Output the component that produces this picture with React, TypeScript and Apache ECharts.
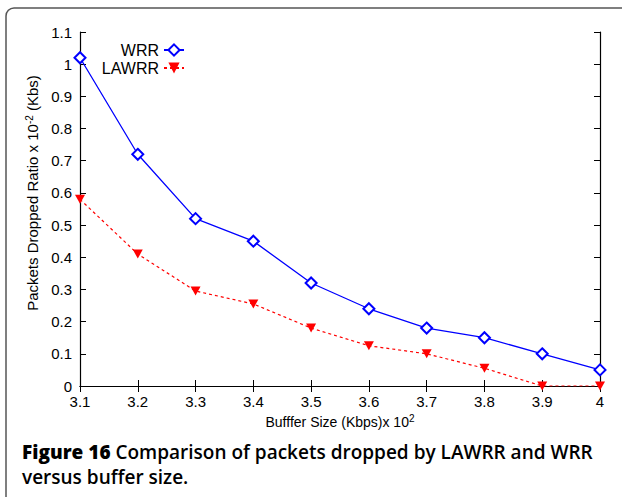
import React, { useEffect, useRef } from "react";
import * as echarts from "echarts";

const bufferSizes = ["3.1", "3.2", "3.3", "3.4", "3.5", "3.6", "3.7", "3.8", "3.9", "4"];
const wrrValues = [1.02, 0.72, 0.52, 0.45, 0.32, 0.24, 0.18, 0.15, 0.1, 0.05];
const lawrrValues = [0.58, 0.41, 0.295, 0.255, 0.18, 0.125, 0.1, 0.055, 0, 0];
const seriesNames = ["WRR", "LAWRR"];
const captionLine1 = "Comparison of packets dropped by LAWRR and WRR";
const captionLine2 = "versus buffer size.";

const FONT = "Liberation Sans, Arial, sans-serif";

export default function App() {
  const ref = useRef<HTMLDivElement>(null);
  useEffect(() => {
    if (!ref.current) return;
    const chart = echarts.init(ref.current, null, { renderer: "svg" });
    const axisLine = { show: true, lineStyle: { color: "#000", width: 1.2 } };
    const tick = { show: true, inside: true, length: 6, lineStyle: { color: "#000", width: 1 } };
    chart.setOption({
      animation: false,
      backgroundColor: "#fff",
      textStyle: { fontFamily: FONT },
      grid: { left: 80, right: 22, top: 32, bottom: 111, containLabel: false },
      legend: {
        data: seriesNames,
        orient: "vertical",
        align: "right",
        right: 432,
        top: 37,
        itemWidth: 20,
        itemHeight: 14,
        itemGap: 2,
        textStyle: { fontFamily: FONT, fontSize: 16, color: "#000" },
        inactiveColor: "#ccc",
      },
      xAxis: [
        {
          type: "category",
          data: bufferSizes,
          boundaryGap: false,
          axisLine,
          axisTick: { ...tick, alignWithLabel: true },
          axisLabel: { color: "#000", fontSize: 15, margin: 8, fontFamily: FONT },
          splitLine: { show: false },
          name: "Bufffer Size (Kbps)x 10{sup|2}",
          nameLocation: "middle",
          nameGap: 16,
          nameTextStyle: {
            color: "#000",
            fontSize: 14,
            fontFamily: FONT,
            rich: { sup: { fontSize: 10, color: "#000", fontFamily: FONT, padding: [0, 0, 7, 0] } },
          },
        },
        {
          type: "category",
          data: bufferSizes,
          boundaryGap: false,
          position: "top",
          axisLine,
          axisTick: tick,
          axisLabel: { show: false },
          splitLine: { show: false },
        },
      ],
      yAxis: [
        {
          type: "value",
          min: 0,
          max: 1.1,
          interval: 0.1,
          axisLine,
          axisTick: tick,
          axisLabel: {
            color: "#000",
            fontSize: 15,
            margin: 8,
            fontFamily: FONT,
            formatter: (v: number) => String(Math.round(v * 10) / 10),
          },
          splitLine: { show: false },
          name: "Packets Dropped Ratio x 10{sup|-2} (Kbs)",
          nameLocation: "middle",
          nameGap: 35,
          nameTextStyle: {
            color: "#000",
            fontSize: 15,
            fontFamily: FONT,
            padding: [0, 0, 0, 32],
            rich: { sup: { fontSize: 10, color: "#000", fontFamily: FONT, padding: [0, 0, 7, 0] } },
          },
        },
        {
          type: "value",
          min: 0,
          max: 1.1,
          interval: 0.1,
          position: "right",
          axisLine,
          axisTick: tick,
          axisLabel: { show: false },
          splitLine: { show: false },
        },
      ],
      series: [
        {
          name: seriesNames[0],
          type: "line",
          data: wrrValues,
          symbol: "emptyDiamond",
          symbolSize: 11,
          showAllSymbol: true,
          itemStyle: { color: "#0000ff", borderColor: "#0000ff", borderWidth: 1.3 },
          lineStyle: { color: "#0000ff", width: 1.3 },
          z: 3,
        },
        {
          name: seriesNames[1],
          type: "line",
          data: lawrrValues,
          symbol: "triangle",
          symbolRotate: 180,
          symbolSize: [10, 9],
          showAllSymbol: true,
          itemStyle: { color: "#ff0000" },
          lineStyle: { color: "#ff0000", width: 1.2, type: [3, 3] },
          z: 4,
        },
      ],
      graphic: [
        {
          type: "rect",
          shape: { x: 6, y: 8, width: 640, height: 520, r: 8 },
          style: { fill: "none", stroke: "#555", lineWidth: 1.5 },
          silent: true,
        },
        {
          type: "text",
          x: 22,
          y: 452,
          style: {
            text: "{b|Figure 16 }{n|" + captionLine1 + "}",
            rich: {
              b: { fontFamily: "Open Sans", fontWeight: 800, fontSize: 19, fill: "#000" },
              n: { fontFamily: "Open Sans", fontWeight: 600, fontSize: 19, fill: "#000" },
            },
            fill: "#000",
            verticalAlign: "middle",
          },
        },
        {
          type: "text",
          x: 22,
          y: 477,
          style: {
            text: captionLine2,
            fontFamily: "Open Sans",
            fontWeight: 600,
            fontSize: 19,
            fill: "#000",
            verticalAlign: "middle",
          },
        },
      ],
    });
    return () => chart.dispose();
  }, []);
  return (
    <div
      ref={ref}
      style={{ position: "fixed", left: 0, top: 0, width: 622, height: 497, background: "#fff" }}
    />
  );
}
